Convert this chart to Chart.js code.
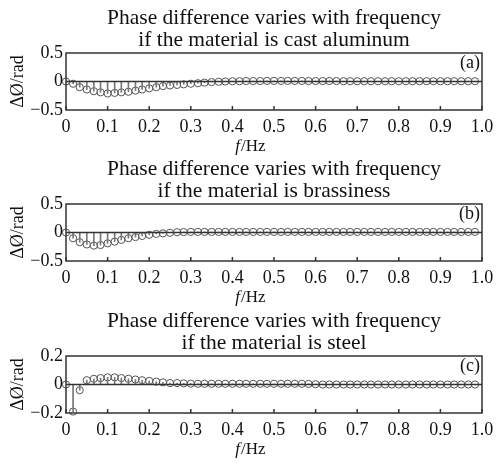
<!DOCTYPE html>
<html>
<head>
<meta charset="utf-8">
<script src="https://cdn.jsdelivr.net/npm/chart.js"></script>
<style>
  body { margin: 0; background: #fff; }
  #wrap { position: relative; width: 502px; height: 463px; }
  canvas { position: absolute; left: 0; }
</style>
</head>
<body>
<div id="wrap">
  <canvas id="chartA" width="502" height="160" style="top:0px"></canvas>
  <canvas id="chartB" width="502" height="160" style="top:151px"></canvas>
  <canvas id="chartC" width="502" height="160" style="top:303px"></canvas>
</div>
<script>
// sample frequencies (Hz)
const freqs = [
  0, 0.017, 0.033, 0.05, 0.067, 0.083, 0.1, 0.117, 0.133, 0.15,
  0.167, 0.183, 0.2, 0.217, 0.233, 0.25, 0.267, 0.283, 0.3, 0.317,
  0.333, 0.35, 0.367, 0.383, 0.4, 0.417, 0.433, 0.45, 0.467, 0.483,
  0.5, 0.517, 0.533, 0.55, 0.567, 0.583, 0.6, 0.617, 0.633, 0.65,
  0.667, 0.683, 0.7, 0.717, 0.733, 0.75, 0.767, 0.783, 0.8, 0.817,
  0.833, 0.85, 0.867, 0.883, 0.9, 0.917, 0.933, 0.95, 0.967, 0.983
];

// phase difference (rad)
const aluminum = [
  0, -0.04, -0.1, -0.14, -0.17, -0.19, -0.21, -0.2, -0.19, -0.18,
  -0.16, -0.14, -0.12, -0.1, -0.08, -0.07, -0.06, -0.05, -0.04, -0.03,
  -0.02, -0.01, -0.005, 0, 0.005, 0.005, 0.008, 0.008, 0.008, 0.01,
  0.01, 0.01, 0.01, 0.01, 0.01, 0.008, 0.008, 0.008, 0.008, 0.008,
  0.005, 0.005, 0.005, 0.005, 0.005, 0.005, 0.005, 0.005, 0.005, 0.005,
  0.005, 0.005, 0.005, 0.005, 0.005, 0.005, 0.005, 0.005, 0.005, 0.005
];
const brass = [
  0, -0.1, -0.17, -0.21, -0.23, -0.22, -0.19, -0.16, -0.13, -0.1,
  -0.08, -0.06, -0.04, -0.025, -0.015, -0.005, 0.005, 0.008, 0.01, 0.01,
  0.01, 0.01, 0.01, 0.01, 0.01, 0.01, 0.01, 0.01, 0.01, 0.01,
  0.01, 0.01, 0.01, 0.01, 0.01, 0.01, 0.01, 0.01, 0.01, 0.01,
  0.01, 0.01, 0.01, 0.01, 0.01, 0.01, 0.01, 0.01, 0.01, 0.01,
  0.01, 0.01, 0.01, 0.01, 0.01, 0.01, 0.01, 0.01, 0.01, 0.01
];
const steel = [
  0, -0.19, -0.04, 0.03, 0.04, 0.045, 0.05, 0.05, 0.045, 0.04,
  0.035, 0.03, 0.025, 0.02, 0.015, 0.01, 0.01, 0.008, 0.006, 0.005,
  0.005, 0.005, 0.005, 0.005, 0.005, 0.005, 0.005, 0.005, 0.005, 0.005,
  0.005, 0.005, 0.005, 0.005, 0.005, 0.004, 0.002, 0, 0, 0,
  0, 0, 0, 0, 0, 0, 0, 0, 0, 0,
  0, 0, 0, 0, 0, 0, 0, 0, 0, 0
];

const xTicks = [0, 0.1, 0.2, 0.3, 0.4, 0.5, 0.6, 0.7, 0.8, 0.9, 1.0];
const xTickLabels = ['0', '0.1', '0.2', '0.3', '0.4', '0.5', '0.6', '0.7', '0.8', '0.9', '1.0'];
const yTicksWide = [-0.5, 0, 0.5];
const yLabelsWide = ['\u22120.5', '0', '0.5'];
const yTicksNarrow = [-0.2, 0, 0.2];
const yLabelsNarrow = ['\u22120.2', '0', '0.2'];

const SERIF = '"Liberation Serif", "Times New Roman", serif';
Chart.defaults.font.family = SERIF;
Chart.defaults.color = '#111';

// box round the plot, inward ticks on the bottom edge, panel tag, x-axis label
const framePlugin = {
  id: 'frame',
  afterDatasetsDraw(chart, args, opts) {
    const { ctx, chartArea: a, scales: { x } } = chart;
    ctx.save();
    ctx.strokeStyle = '#333';
    ctx.lineWidth = 1.5;
    ctx.strokeRect(a.left, a.top, a.width, a.height);
    x.ticks.forEach(t => {
      const px = x.getPixelForValue(t.value);
      ctx.beginPath();
      ctx.moveTo(px, a.bottom);
      ctx.lineTo(px, a.bottom - 4);
      ctx.stroke();
    });
    ctx.fillStyle = '#111';
    ctx.textBaseline = 'middle';
    ctx.font = '18px ' + SERIF;
    ctx.textAlign = 'right';
    ctx.fillText(opts.tag, a.right - 2, a.top + 10);

    // "f/Hz" with an italic f, centred on the page
    const yLab = a.bottom + 37;
    ctx.font = 'italic 17px ' + SERIF;
    const w1 = ctx.measureText('f').width;
    ctx.font = '17px ' + SERIF;
    const w2 = ctx.measureText('/Hz').width;
    const x0 = 250 - (w1 + w2) / 2;
    ctx.textAlign = 'left';
    ctx.font = 'italic 17px ' + SERIF;
    ctx.fillText('f', x0, yLab);
    ctx.font = '17px ' + SERIF;
    ctx.fillText('/Hz', x0 + w1 + 1, yLab);
    ctx.restore();
  }
};

function makePanel(id, values, yTicks, yLabels, tag, titleLines) {
  const points = freqs.map((f, i) => ({ x: f, y: values[i] }));
  const lo = yTicks[0], hi = yTicks[yTicks.length - 1];
  return new Chart(document.getElementById(id), {
    type: 'scatter',
    data: {
      datasets: [
        {
          type: 'line',
          data: [{ x: 0, y: 0 }, { x: 1, y: 0 }],
          borderColor: '#333',
          borderWidth: 1.3,
          pointRadius: 0
        },
        {
          type: 'bar',
          data: points,
          backgroundColor: '#777',
          borderWidth: 0,
          barThickness: 1,
          grouped: false
        },
        {
          type: 'scatter',
          data: points,
          pointStyle: 'circle',
          pointRadius: 3.6,
          borderColor: '#555',
          borderWidth: 1,
          backgroundColor: 'rgba(255,255,255,0)',
          clip: false
        }
      ]
    },
    options: {
      responsive: false,
      animation: false,
      devicePixelRatio: 1,
      layout: { padding: { left: 0, right: 20, top: 0, bottom: 0 } },
      plugins: {
        legend: { display: false },
        tooltip: { enabled: false },
        title: {
          display: true,
          fullSize: false,
          text: titleLines,
          color: '#111',
          font: { size: 21.5, weight: 'normal', lineHeight: '22px' },
          padding: { top: 7, bottom: 2 }
        },
        frame: { tag: tag }
      },
      scales: {
        x: {
          type: 'linear',
          min: 0,
          max: 1,
          offset: false,
          grid: { display: false, drawTicks: false },
          border: { display: false },
          ticks: {
            font: { size: 18 },
            padding: 6,
            maxRotation: 0,
            autoSkip: false,
            callback: (v, i) => xTickLabels[i]
          },
          afterBuildTicks: s => { s.ticks = xTicks.map(v => ({ value: v })); },
          afterFit: s => { s.height = 50; s.paddingLeft = 0; s.paddingRight = 0; }
        },
        y: {
          min: lo,
          max: hi,
          grid: { display: false, drawTicks: false },
          border: { display: false },
          ticks: {
            font: { size: 18 },
            padding: 3,
            callback: (v, i) => yLabels[i]
          },
          afterBuildTicks: s => { s.ticks = yTicks.map(v => ({ value: v })); },
          afterFit: s => { s.width = 66; s.paddingTop = 0; s.paddingBottom = 0; },
          title: { display: true, text: '\u0394\u00D8/rad', font: { size: 18 }, padding: { top: 7, bottom: 0 } }
        }
      }
    },
    plugins: [framePlugin]
  });
}

makePanel('chartA', aluminum, yTicksWide, yLabelsWide, '(a)',
  ['Phase difference varies with frequency', 'if the material is cast aluminum']);
makePanel('chartB', brass, yTicksWide, yLabelsWide, '(b)',
  ['Phase difference varies with frequency', 'if the material is brassiness']);
makePanel('chartC', steel, yTicksNarrow, yLabelsNarrow, '(c)',
  ['Phase difference varies with frequency', 'if the material is steel']);
</script>
</body>
</html>
